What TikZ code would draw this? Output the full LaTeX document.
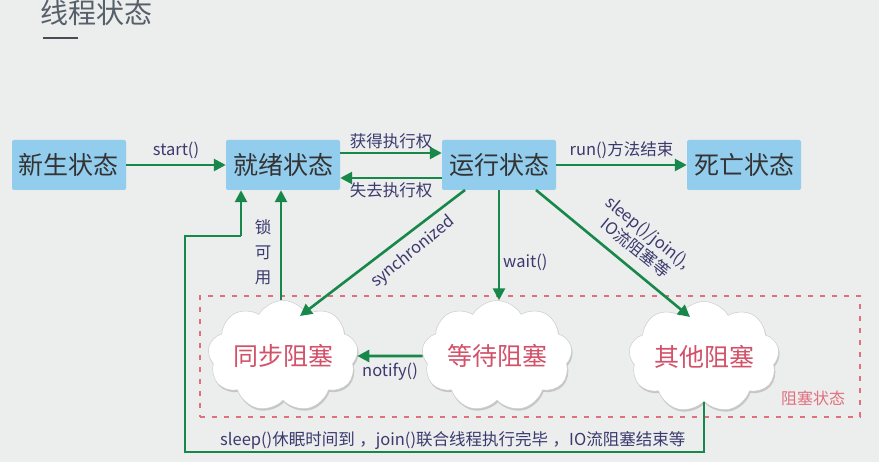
\documentclass[tikz,border=0pt]{standalone}
\usepackage{fontspec}
\setmainfont{Noto Sans CJK SC}
\usetikzlibrary{arrows.meta,shapes.symbols,shadows}
\definecolor{bg}{HTML}{ECEDED}
\definecolor{boxblue}{HTML}{93CDEE}
\definecolor{arrgreen}{HTML}{17884A}
\definecolor{lbl}{HTML}{3B3A6E}
\definecolor{cloudtxt}{HTML}{D2526A}
\definecolor{dashred}{HTML}{E0707E}
\definecolor{titlec}{HTML}{56606A}
\tikzset{
  statebox/.style={fill=boxblue, rounded corners=2pt, minimum width=114pt, minimum height=50pt, inner sep=0pt, font=\fontsize{25}{28}\selectfont, text=black!80},
  arr/.style={draw=arrgreen, line width=2.6pt, -{Triangle[length=12pt,width=12pt]}},
  plain/.style={draw=arrgreen, line width=2.6pt},
  lab/.style={text=lbl, font=\fontsize{16.5}{19}\selectfont, inner sep=1pt},
  blockcloud/.style={cloud, cloud puffs=9, cloud puff arc=120, aspect=1.6, fill=white, draw=gray!40, line width=0.5pt, minimum width=140pt, minimum height=94pt, inner sep=0pt, text=cloudtxt, font=\fontsize{25}{28}\selectfont, drop shadow={opacity=0.35, shadow xshift=1pt, shadow yshift=-2pt}}
}
\begin{document}
\begin{tikzpicture}[x=1pt,y=-1pt]
\fill[bg] (0,0) rectangle (879,462);
\useasboundingbox (0,0) rectangle (879,462);
% title
\node[anchor=west, text=titlec, font=\fontsize{28}{30}\selectfont, inner sep=0pt] (title) at (40,13) {线程状态};
\draw[titlec!80!black, line width=2.2pt] (43,38) -- (78,38);
% dashed block area
\node[draw=dashred, dashed, dash pattern=on 5pt off 7pt, line width=1.4pt, minimum width=660pt, minimum height=121pt, inner sep=0pt] (blockarea) at (530,356.5) {};
\node[text=dashred, font=\fontsize{16}{18}\selectfont, inner sep=0pt] (blocklabel) at (813,398) {阻塞状态};
% state boxes
\node[statebox] (new) at (69,165) {新生状态};
\node[statebox] (ready) at (283,165) {就绪状态};
\node[statebox] (run) at (499,165) {运行状态};
\node[statebox] (dead) at (744,165) {死亡状态};
% clouds
\node[blockcloud] (sync) at (283,356) {同步阻塞};
\node[blockcloud] (wait) at (497,356) {等待阻塞};
\node[blockcloud] (other) at (704,357) {其他阻塞};
% top arrows
\draw[arr] (new) -- (ready) node[midway, above=4pt, lab] {start()};
\draw[arr] ([yshift=12pt]ready.east) -- ([yshift=12pt]run.west) node[midway, above=2pt, lab] {获得执行权};
\draw[arr] ([yshift=-13pt]run.west) -- ([yshift=-13pt]ready.east) node[midway, below=2pt, lab] {失去执行权};
\draw[arr] (run) -- (dead) node[midway, above=4pt, lab] {run()方法结束};
% run to blocks
\coordinate (synstart) at (465,190);
\coordinate (synend) at (300,316);
\draw[arr] (synstart) -- (synend);
\node[lab, rotate=39] (synlab) at (413,252) {synchronized};
\draw[arr] (run.south) -- (run.south |- wait.north);
\node[lab, anchor=west] (waitlab) at (502,262) {wait()};
\coordinate (slpstart) at (536,190);
\coordinate (slpend) at (690,317);
\draw[arr] (slpstart) -- (slpend);
\node[lab, rotate=-39, align=center, font=\fontsize{16.5}{20}\selectfont] (slplab) at (642,240) {sleep()/join(),\\IO流阻塞等};
% notify
\draw[arr] (wait.west) -- (sync.east) node[midway, below=5pt, lab] {notify()};
% lock available
\coordinate (lockx) at (281,0);
\draw[arr] (sync.north -| lockx) -- (ready.south -| lockx);
\node[lab, align=center, font=\fontsize{16.5}{25}\selectfont] (locklab) at (263,252) {锁\\可\\用};
% loop back
\coordinate (loopx) at (241,0);
\draw[plain] (other.south) |- (185,452) |- (241,236);
\draw[arr] (241,236) -- (ready.south -| loopx);
\node[lab, anchor=west, font=\fontsize{16.5}{18}\selectfont] (looplab) at (219,440) {sleep()休眠时间到\;，join()联合线程执行完毕\;，IO流阻塞结束等};
\end{tikzpicture}
\end{document}
